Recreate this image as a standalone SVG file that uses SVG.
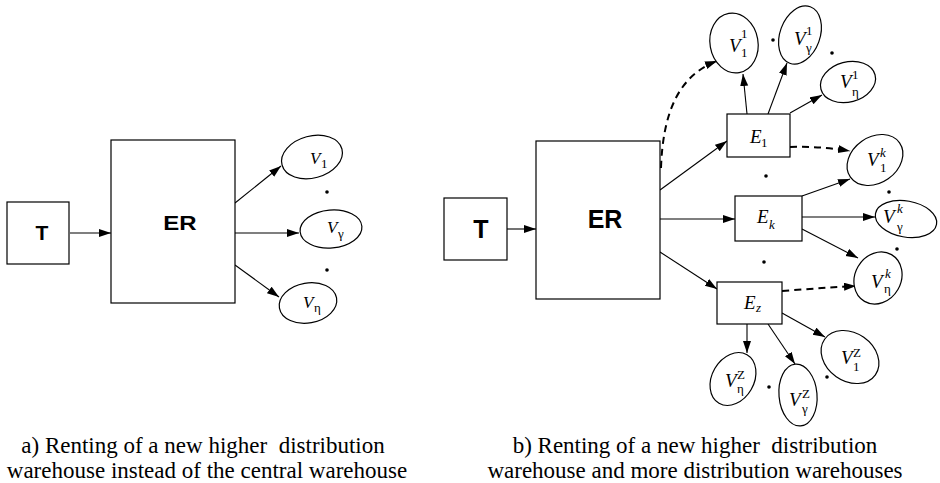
<svg xmlns="http://www.w3.org/2000/svg" width="940" height="483" viewBox="0 0 940 483">
<style>
.box{fill:#fff;stroke:#000;stroke-width:1.2}
.ell{fill:#fff;stroke:#000;stroke-width:1.2}
.ln{fill:none;stroke:#000;stroke-width:1.1}
.dash{fill:none;stroke:#000;stroke-width:2;stroke-dasharray:7 5}
.bold{font-weight:bold;text-anchor:middle;fill:#000}
.v{font-style:italic;font-size:17px;fill:#000}
.vb{font-style:italic;font-size:19px;fill:#000}
.s{font-style:normal;font-size:13px}
.si{font-style:italic;font-size:13px}
.cap{font-size:23px;text-anchor:middle;fill:#000}
.dot{fill:#000}
</style>
<defs>
<marker id="ah" markerUnits="userSpaceOnUse" markerWidth="13" markerHeight="9" refX="12" refY="4" orient="auto">
<path d="M0,0 L12,4 L0,8 z" fill="#000"/>
</marker>
</defs>

<g id="connectors">
<path class="ln" d="M70,233 L111,233" marker-end="url(#ah)"/>
<path class="ln" d="M235,203 L281,166" marker-end="url(#ah)"/>
<path class="ln" d="M235,233 L299,233" marker-end="url(#ah)"/>
<path class="ln" d="M235,265 L279,297" marker-end="url(#ah)"/>
<path class="ln" d="M507,229 L536,229" marker-end="url(#ah)"/>
<path class="ln" d="M660,190 L727,141" marker-end="url(#ah)"/>
<path class="ln" d="M660,219 L735,219" marker-end="url(#ah)"/>
<path class="ln" d="M660,252 L717,289" marker-end="url(#ah)"/>
<path class="ln" d="M747,114 L743,74" marker-end="url(#ah)"/>
<path class="ln" d="M768,114 L787,63" marker-end="url(#ah)"/>
<path class="ln" d="M790,113 L822,95" marker-end="url(#ah)"/>
<path class="ln" d="M802,196 L850,179" marker-end="url(#ah)"/>
<path class="ln" d="M802,217 L875,217" marker-end="url(#ah)"/>
<path class="ln" d="M802,229 L858,258" marker-end="url(#ah)"/>
<path class="ln" d="M747,324 L747,353" marker-end="url(#ah)"/>
<path class="ln" d="M768,324 L795,364" marker-end="url(#ah)"/>
<path class="ln" d="M782,313 L825,337" marker-end="url(#ah)"/>
<path class="dash" d="M661,168 C663,110 680,75 717,61" marker-end="url(#ah)"/>
<path class="dash" d="M790,147 Q820,146 850,151" marker-end="url(#ah)"/>
<path class="dash" d="M782,291 Q820,288 856,286" marker-end="url(#ah)"/>
</g>

<g font-family="'Liberation Sans', Arial, sans-serif">
<g id="a-T">
<rect class="box" x="7" y="202" width="62" height="62"/>
<text class="bold" x="42" y="240" font-size="21">T</text>
</g>
<g id="a-ER">
<rect class="box" x="111" y="140" width="124" height="163"/>
<text class="bold" font-size="24" transform="translate(180,230) scale(1,0.82)">ER</text>
</g>
<g id="b-T">
<rect class="box" x="444" y="198" width="63" height="62"/>
<text class="bold" x="481" y="238" font-size="25">T</text>
</g>
<g id="b-ER">
<rect class="box" x="536" y="141" width="124" height="158"/>
<text class="bold" x="605" y="228" font-size="25">ER</text>
</g>
</g>

<g font-family="'Liberation Serif', 'Times New Roman', serif">
<g id="a-V1">
<ellipse class="ell" cx="312" cy="157" rx="31" ry="21" transform="rotate(-15 312 157)"/>
<text class="v" x="310" y="164">V<tspan class="s" x="321" y="168">1</tspan></text>
</g>
<g id="a-Vg">
<ellipse class="ell" cx="331" cy="229" rx="31" ry="19" transform="rotate(-5 331 229)"/>
<text class="v" x="327" y="233">V<tspan class="s" x="338" y="238">γ</tspan></text>
</g>
<g id="a-Vn">
<ellipse class="ell" cx="308" cy="303" rx="29" ry="20" transform="rotate(-10 308 303)"/>
<text class="v" x="303" y="308">V<tspan class="s" x="314" y="312">η</tspan></text>
</g>
<g id="a-dots">
<circle class="dot" cx="327" cy="192" r="1.8"/>
<circle class="dot" cx="327" cy="270" r="1.8"/>
</g>

<g id="b-E1">
<rect class="box" x="727" y="114" width="63" height="43"/>
<text class="vb" x="750" y="143">E<tspan class="s" x="761" y="147">1</tspan></text>
</g>
<g id="b-Ek">
<rect class="box" x="735" y="196" width="67" height="45"/>
<text class="vb" x="757" y="223">E<tspan class="si" x="769" y="229">k</tspan></text>
</g>
<g id="b-Ez">
<rect class="box" x="717" y="282" width="65" height="42"/>
<text class="vb" x="744" y="309">E<tspan class="si" x="756" y="312">z</tspan></text>
</g>
<g id="b-V11">
<ellipse class="ell" cx="734" cy="43" rx="24" ry="30" transform="rotate(-10 734 43)"/>
<text class="vb" x="729" y="52">V<tspan class="s" x="741" y="38">1</tspan><tspan class="s" x="741" y="57">1</tspan></text>
</g>
<g id="b-Vg1">
<ellipse class="ell" cx="800" cy="35" rx="20" ry="30" transform="rotate(20 800 35)"/>
<text class="vb" x="794" y="45">V<tspan class="s" x="806" y="35">1</tspan><tspan class="s" x="806" y="52">γ</tspan></text>
</g>
<g id="b-Vn1">
<ellipse class="ell" cx="848" cy="82" rx="28" ry="20" transform="rotate(-15 848 82)"/>
<text class="vb" x="840" y="88">V<tspan class="s" x="852" y="79">1</tspan><tspan class="s" x="852" y="96">η</tspan></text>
</g>
<g id="b-V1k">
<ellipse class="ell" cx="875" cy="160" rx="30" ry="23" transform="rotate(-35 875 160)"/>
<text class="vb" x="867" y="166">V<tspan class="si" x="880" y="157">k</tspan><tspan class="s" x="880" y="172">1</tspan></text>
</g>
<g id="b-Vgk">
<ellipse class="ell" cx="906" cy="219" rx="31" ry="18" transform="rotate(10 906 219)"/>
<text class="vb" x="883" y="223">V<tspan class="si" x="897" y="213">k</tspan><tspan class="s" x="897" y="231">γ</tspan></text>
</g>
<g id="b-Vnk">
<ellipse class="ell" cx="878" cy="278" rx="23" ry="27" transform="rotate(30 878 278)"/>
<text class="vb" x="871" y="288">V<tspan class="si" x="885" y="278">k</tspan><tspan class="s" x="884" y="293">η</tspan></text>
</g>
<g id="b-V1Z">
<ellipse class="ell" cx="850" cy="357" rx="31" ry="24" transform="rotate(35 850 357)"/>
<text class="vb" x="841" y="364">V<tspan class="s" x="853" y="357">Z</tspan><tspan class="s" x="853" y="371">1</tspan></text>
</g>
<g id="b-VnZ">
<ellipse class="ell" cx="733" cy="379" rx="21" ry="28" transform="rotate(30 733 379)"/>
<text class="vb" x="725" y="387">V<tspan class="s" x="737" y="379">Z</tspan><tspan class="s" x="737" y="393">η</tspan></text>
</g>
<g id="b-VgZ">
<ellipse class="ell" cx="798" cy="395" rx="19" ry="31" transform="rotate(-5 798 395)"/>
<text class="vb" x="789" y="406">V<tspan class="s" x="802" y="398">Z</tspan><tspan class="s" x="802" y="413">γ</tspan></text>
</g>
<g id="b-dots">
<circle class="dot" cx="773" cy="40" r="1.8"/>
<circle class="dot" cx="832" cy="53" r="1.8"/>
<circle class="dot" cx="766" cy="176" r="1.8"/>
<circle class="dot" cx="764" cy="262" r="1.8"/>
<circle class="dot" cx="889" cy="192" r="1.8"/>
<circle class="dot" cx="897" cy="249" r="1.8"/>
<circle class="dot" cx="769" cy="387" r="1.8"/>
<circle class="dot" cx="827" cy="377" r="1.8"/>
</g>

<g id="captions">
<text class="cap" x="203" y="453" xml:space="preserve">a) Renting of a new higher  distribution</text>
<text class="cap" x="207" y="478">warehouse instead of the central warehouse</text>
<text class="cap" x="695" y="453" xml:space="preserve">b) Renting of a new higher  distribution</text>
<text class="cap" x="695" y="478">warehouse and more distribution warehouses</text>
</g>
</g>
</svg>
